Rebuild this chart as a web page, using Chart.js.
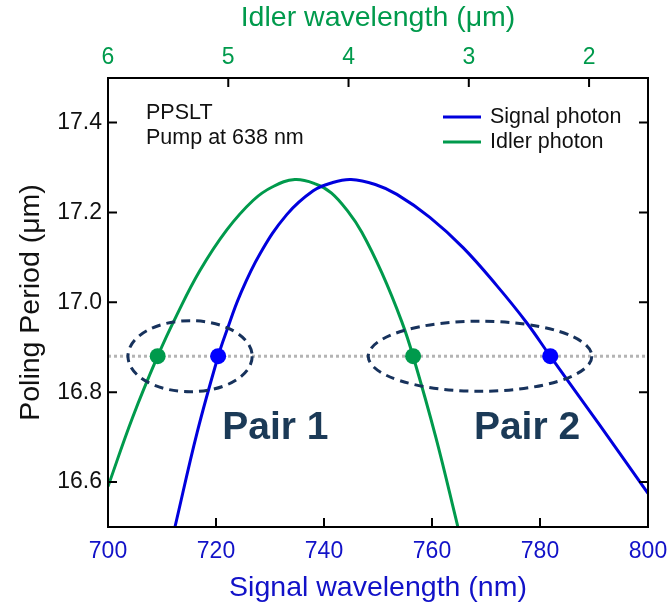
<!DOCTYPE html>
<html>
<head>
<meta charset="utf-8">
<script src="https://cdn.jsdelivr.net/npm/chart.js@4"></script>
<style>
  html, body { margin: 0; padding: 0; background: #fff; }
</style>
</head>
<body>
<canvas id="chart" width="670" height="610"></canvas>
<script>
// signal photon curve (nm -> poling period, um)
const signalNm = [712.4, 716.5, 720.4, 722.0, 724.4, 728.1, 733.1, 738.0, 741.5, 745.0, 749.5, 753.5, 759.6, 765.8, 772.0, 777.5, 781.9, 791.1, 800.0];
const signalPeriod = [16.50, 16.71, 16.88, 16.937, 17.015, 17.107, 17.195, 17.248, 17.266, 17.273, 17.262, 17.240, 17.189, 17.121, 17.037, 16.955, 16.88, 16.726, 16.575];

// idler photon curve, plotted on the same signal axis
const idlerNm = [700.0, 704.5, 709.2, 712.8, 717.0, 722.0, 726.9, 730.5, 734.6, 738.5, 741.4, 744.5, 747.0, 750.7, 754.4, 756.5, 760.7, 764.8];
const idlerPeriod = [16.59, 16.742, 16.88, 16.973, 17.07, 17.161, 17.227, 17.257, 17.273, 17.263, 17.243, 17.201, 17.156, 17.066, 16.957, 16.88, 16.70, 16.50];

// chosen poling period and the matching points
const chosenPeriod = 16.88;
const signalDotsNm = [720.4, 781.9];
const idlerDotsNm = [709.2, 756.5];

// pair ellipses (center in nm, half widths in nm / um)
const pairNames = ['Pair 1', 'Pair 2'];
const pairCenterNm = [715.2, 768.9];
const pairRadiusNm = [11.5, 20.7];
const pairRadiusPeriod = [0.079, 0.078];
const pairLabelNm = [731, 777.6];
const pairLabelPeriod = [16.72, 16.72];

// ticks
const signalTicks = [700, 720, 740, 760, 780, 800];
const idlerTicksUm = [6, 5, 4, 3, 2];
const periodTicks = [16.6, 16.8, 17.0, 17.2, 17.4];

const BLUE = '#0000dd';
const BLUE_TXT = '#1212c8';
const GREEN = '#009a4c';
const NAVY = '#17325c';
const FONT = "'Liberation Sans', Arial, Helvetica, sans-serif";

const toXY = (xs, ys) => xs.map((x, i) => ({ x: x, y: ys[i] }));

const frameAndMarks = {
  id: 'frameAndMarks',
  afterDatasetsDraw(chart) {
    const ctx = chart.ctx;
    const a = chart.chartArea;
    const sx = chart.scales.x, sy = chart.scales.y, sx2 = chart.scales.x2;
    ctx.save();

    // dashed ellipses
    ctx.strokeStyle = NAVY;
    ctx.lineWidth = 3;
    ctx.setLineDash([9, 6]);
    pairCenterNm.forEach((c, i) => {
      const cx = sx.getPixelForValue(c);
      const cy = sy.getPixelForValue(chosenPeriod);
      const rx = sx.getPixelForValue(c + pairRadiusNm[i]) - cx;
      const ry = cy - sy.getPixelForValue(chosenPeriod + pairRadiusPeriod[i]);
      ctx.beginPath();
      ctx.ellipse(cx, cy, rx, ry, 0, 0, Math.PI * 2);
      ctx.stroke();
    });
    ctx.setLineDash([]);

    // pair labels
    ctx.fillStyle = '#1b3a57';
    ctx.font = 'bold 39px ' + FONT;
    ctx.textAlign = 'center';
    ctx.textBaseline = 'middle';
    pairNames.forEach((n, i) => {
      ctx.fillText(n, sx.getPixelForValue(pairLabelNm[i]), sy.getPixelForValue(pairLabelPeriod[i]));
    });

    // frame
    ctx.strokeStyle = '#000';
    ctx.lineWidth = 2;
    ctx.strokeRect(a.left, a.top, a.right - a.left, a.bottom - a.top);

    // inward ticks
    const tl = 9;
    ctx.beginPath();
    periodTicks.forEach(v => {
      const y = sy.getPixelForValue(v);
      ctx.moveTo(a.left, y); ctx.lineTo(a.left + tl, y);
      ctx.moveTo(a.right, y); ctx.lineTo(a.right - tl, y);
    });
    signalTicks.slice(1, -1).forEach(v => {
      const x = sx.getPixelForValue(v);
      ctx.moveTo(x, a.bottom); ctx.lineTo(x, a.bottom - tl);
    });
    idlerTicksUm.slice(1).forEach(v => {
      const x = sx2.getPixelForValue(v);
      ctx.moveTo(x, a.top); ctx.lineTo(x, a.top + tl);
    });
    ctx.stroke();

    // sample notes
    ctx.fillStyle = '#111';
    ctx.font = '21.5px ' + FONT;
    ctx.textAlign = 'left';
    ctx.fillText('PPSLT', a.left + 38, 113);
    ctx.fillText('Pump at 638 nm', a.left + 38, 138);

    // legend
    const items = [['Signal photon', BLUE], ['Idler photon', GREEN]];
    items.forEach((it, i) => {
      const y = 117 + i * 25;
      ctx.strokeStyle = it[1];
      ctx.lineWidth = 3;
      ctx.beginPath();
      ctx.moveTo(443, y); ctx.lineTo(481, y);
      ctx.stroke();
      ctx.fillStyle = '#111';
      ctx.fillText(it[0], 490, y);
    });
    ctx.restore();
  }
};

new Chart(document.getElementById('chart'), {
  type: 'line',
  data: {
    datasets: [
      {
        label: 'signal dots',
        type: 'scatter',
        data: signalDotsNm.map(x => ({ x: x, y: chosenPeriod })),
        backgroundColor: '#0000ff',
        borderWidth: 0,
        pointRadius: 8
      },
      {
        label: 'idler dots',
        type: 'scatter',
        data: idlerDotsNm.map(x => ({ x: x, y: chosenPeriod })),
        backgroundColor: GREEN,
        borderWidth: 0,
        pointRadius: 8
      },
      {
        label: 'Signal photon',
        data: toXY(signalNm, signalPeriod),
        borderColor: BLUE,
        borderWidth: 3,
        pointRadius: 0,
        tension: 0.4,
        fill: false
      },
      {
        label: 'Idler photon',
        data: toXY(idlerNm, idlerPeriod),
        borderColor: GREEN,
        borderWidth: 3,
        pointRadius: 0,
        tension: 0.4,
        fill: false
      },
      {
        label: 'period',
        data: [{ x: 700, y: chosenPeriod }, { x: 800, y: chosenPeriod }],
        borderColor: '#b4b4b4',
        borderWidth: 3,
        borderDash: [3, 3],
        pointRadius: 0,
        fill: false
      }
    ]
  },
  options: {
    responsive: false,
    animation: false,
    layout: { padding: { left: 0, right: 22, top: 0, bottom: 0 } },
    plugins: { legend: { display: false }, tooltip: { enabled: false } },
    scales: {
      x: {
        type: 'linear',
        position: 'bottom',
        min: 700,
        max: 800,
        grid: { display: false, drawTicks: false },
        border: { display: false },
        ticks: { stepSize: 20, color: BLUE_TXT, font: { family: FONT, size: 23 }, padding: 11, maxRotation: 0 },
        title: { display: true, text: 'Signal wavelength (nm)', color: BLUE_TXT, font: { family: FONT, size: 28.5 }, padding: { top: 2, bottom: 5 } },
        afterFit: s => { s.height = 83; s.paddingLeft = 0; s.paddingRight = 0; }
      },
      x2: {
        type: 'linear',
        axis: 'x',
        position: 'top',
        reverse: true,
        min: 1.51,
        max: 6,
        grid: { display: false, drawTicks: false },
        border: { display: false },
        ticks: { stepSize: 1, includeBounds: false, color: GREEN, font: { family: FONT, size: 23 }, padding: 7, maxRotation: 0 },
        title: { display: true, text: 'Idler wavelength (μm)', color: GREEN, font: { family: FONT, size: 28.5 }, padding: { top: 1, bottom: 2 } },
        afterFit: s => { s.height = 78; s.paddingLeft = 0; s.paddingRight = 0; }
      },
      y: {
        type: 'linear',
        min: 16.5,
        max: 17.499,
        grid: { display: false, drawTicks: false },
        border: { display: false },
        ticks: { stepSize: 0.2, includeBounds: false, color: '#111', font: { family: FONT, size: 23 }, padding: 6, callback: v => v.toFixed(1) },
        title: { display: true, text: 'Poling Period (μm)', color: '#111', font: { family: FONT, size: 28.5 }, padding: { top: 14, bottom: 2 } },
        afterFit: s => { s.width = 108; }
      }
    }
  },
  plugins: [frameAndMarks]
});
</script>
</body>
</html>
